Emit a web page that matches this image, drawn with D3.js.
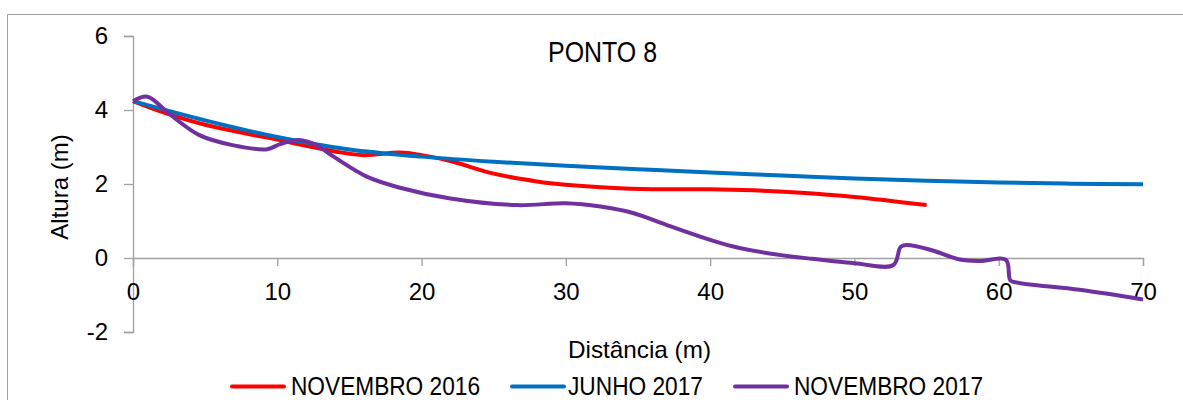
<!DOCTYPE html>
<html>
<head>
<meta charset="utf-8">
<script src="https://cdn.jsdelivr.net/npm/d3@7"></script>
<style>
  html, body { margin: 0; padding: 0; background: #fff; }
  svg { display: block; font-family: "Liberation Sans", Arial, sans-serif; }
</style>
</head>
<body>
<svg id="chart" width="1183" height="400"></svg>
<script>
// ---- data ----
const seriesNames = ["NOVEMBRO 2016", "JUNHO 2017", "NOVEMBRO 2017"];
const seriesColors = ["#ff0000", "#0070c0", "#7030a0"];

const nov2016Dist = [0, 2, 5, 8, 10, 12, 14, 16, 18.5, 20, 22, 25, 28, 30, 33, 36, 40, 43, 46, 50, 55];
const nov2016Alt  = [4.24, 3.95, 3.6, 3.35, 3.2, 3.03, 2.88, 2.78, 2.85, 2.78, 2.62, 2.28, 2.07, 1.98, 1.9, 1.86, 1.86, 1.83, 1.77, 1.65, 1.43];

const jun2017Dist = [0, 5, 10, 15, 20, 25, 30, 35, 40, 45, 50, 55, 60, 65, 70];
const jun2017Alt  = [4.24, 3.72, 3.27, 2.93, 2.74, 2.6, 2.49, 2.4, 2.31, 2.23, 2.15, 2.09, 2.04, 2.01, 1.99];

const nov2017Dist = [0, 1, 2.5, 4.6, 6.9, 9.3, 10.2, 11.5, 12.7, 13.9, 16.2, 18.5, 22, 26.6, 30, 32.4, 34.7, 37, 39.3, 41.6, 44, 47, 50, 52.7, 53.2, 53.6, 55.2, 57.3, 58.7, 60.5, 60.8, 61.2, 65.6, 70];
const nov2017Alt  = [4.24, 4.36, 3.9, 3.32, 3.05, 2.94, 3.08, 3.19, 3.05, 2.74, 2.2, 1.9, 1.61, 1.43, 1.48, 1.39, 1.21, 0.89, 0.58, 0.31, 0.13, -0.02, -0.14, -0.19, 0.3, 0.35, 0.23, -0.04, -0.08, -0.05, -0.6, -0.66, -0.86, -1.12];

const xTicks = [0, 10, 20, 30, 40, 50, 60, 70];
const yTicks = [-2, 0, 2, 4, 6];

const titleText = "PONTO 8";
const xTitle = "Distância (m)";
const yTitle = "Altura (m)";

// ---- drawing ----
const svg = d3.select("#chart");
const axisColor = "#a0a0a0";
const plainFormat = d => String(d);

// outer chart border (left + top only visible)
svg.append("path")
  .attr("d", "M7.5,400V14.5H1183")
  .attr("fill", "none").attr("stroke", axisColor).attr("stroke-width", 1);

const x = d3.scaleLinear().domain([0, 70]).range([133, 1143]);
const y = d3.scaleLinear().domain([-2, 6]).range([332, 36]);

// y axis
const yAxis = svg.append("g")
  .attr("transform", `translate(${x(0)},0)`)
  .call(d3.axisLeft(y).tickValues(yTicks).tickSize(9).tickPadding(16).tickFormat(plainFormat));
yAxis.selectAll("path, line").attr("stroke", axisColor).attr("stroke-width", 1.3);
yAxis.selectAll("text").attr("font-size", 24).attr("fill", "#000")
  .attr("font-family", "Liberation Sans, Arial, sans-serif");

// x axis at y=0
const xAxis = svg.append("g")
  .attr("transform", `translate(0,${y(0)})`)
  .call(d3.axisBottom(x).tickValues(xTicks).tickSize(8).tickPadding(17).tickFormat(plainFormat));
xAxis.selectAll("path, line").attr("stroke", axisColor).attr("stroke-width", 1.3);
xAxis.selectAll("text").attr("font-size", 24).attr("fill", "#000")
  .attr("font-family", "Liberation Sans, Arial, sans-serif");

// lines
const lineGen = d3.line()
  .x(d => x(d[0])).y(d => y(d[1]))
  .curve(d3.curveCatmullRom.alpha(0.5));

const series = [
  d3.zip(nov2016Dist, nov2016Alt),
  d3.zip(jun2017Dist, jun2017Alt),
  d3.zip(nov2017Dist, nov2017Alt)
];

series.forEach((pts, i) => {
  svg.append("path")
    .datum(pts)
    .attr("d", lineGen)
    .attr("fill", "none")
    .attr("stroke", seriesColors[i])
    .attr("stroke-width", 4)
    .attr("stroke-linejoin", "round");
});

// title
svg.append("text")
  .attr("x", 548).attr("y", 62)
  .attr("font-size", 29)
  .attr("textLength", 109).attr("lengthAdjust", "spacingAndGlyphs")
  .attr("fill", "#000")
  .text(titleText);

// y title
svg.append("text")
  .attr("transform", "translate(68,187) rotate(-90)")
  .attr("text-anchor", "middle")
  .attr("font-size", 24)
  .attr("fill", "#000")
  .text(yTitle);

// x title
svg.append("text")
  .attr("x", 568).attr("y", 358)
  .attr("font-size", 24)
  .attr("textLength", 143).attr("lengthAdjust", "spacingAndGlyphs")
  .attr("fill", "#000")
  .text(xTitle);

// legend
const legendLineX = [232, 512, 735];
const legendTextX = [291, 568, 794];
const legendTextW = [189, 135, 189];
seriesNames.forEach((name, i) => {
  svg.append("line")
    .attr("x1", legendLineX[i]).attr("x2", legendLineX[i] + 52)
    .attr("y1", 386.5).attr("y2", 386.5)
    .attr("stroke", seriesColors[i]).attr("stroke-width", 4)
    .attr("stroke-linecap", "round");
  svg.append("text")
    .attr("x", legendTextX[i]).attr("y", 395)
    .attr("font-size", 25)
    .attr("textLength", legendTextW[i]).attr("lengthAdjust", "spacingAndGlyphs")
    .attr("fill", "#000")
    .text(name);
});
</script>
</body>
</html>
